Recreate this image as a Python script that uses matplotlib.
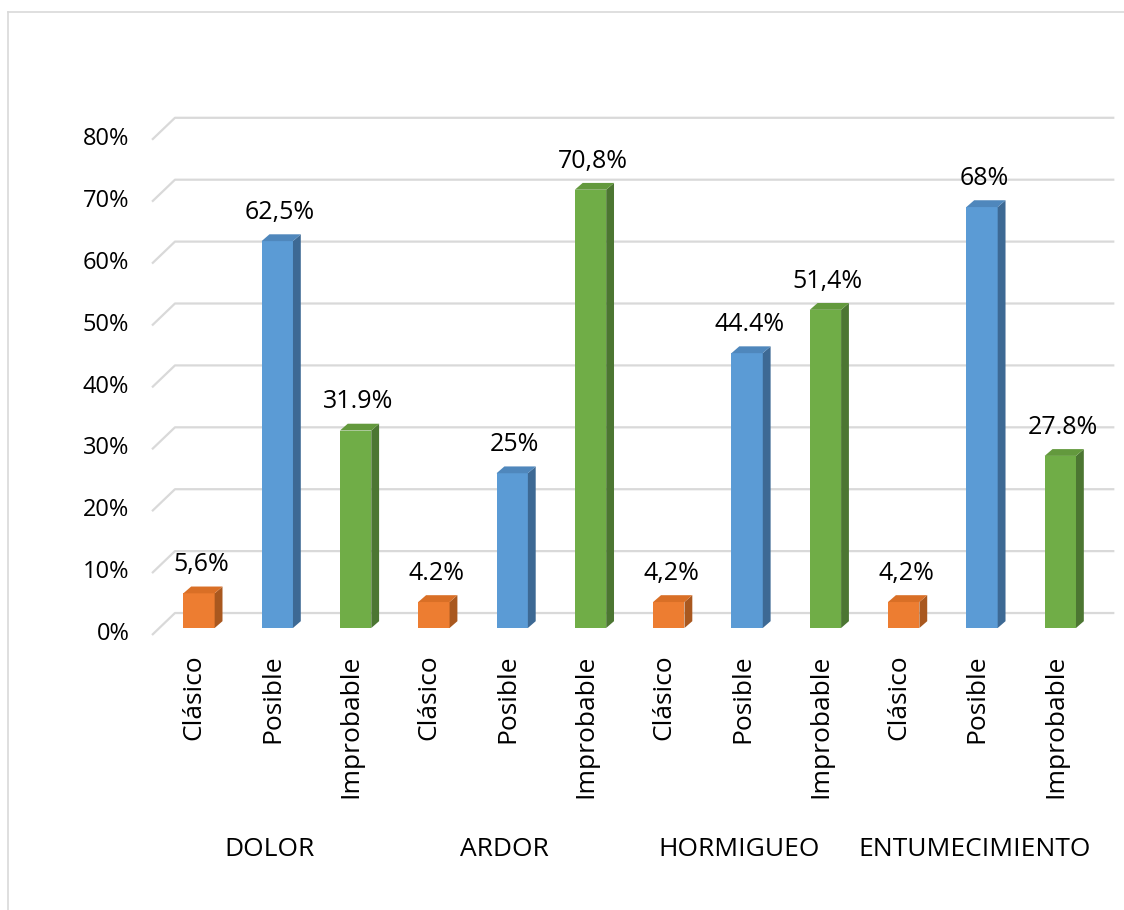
import numpy as np
import matplotlib.pyplot as plt
from matplotlib.patches import Polygon
from matplotlib.lines import Line2D

plt.rcParams['font.family'] = ['Open Sans', 'DejaVu Sans']

groups = ['DOLOR', 'ARDOR', 'HORMIGUEO', 'ENTUMECIMIENTO']
kinds = ['Clásico', 'Posible', 'Improbable']
values = [5.6, 62.5, 31.9, 4.2, 25, 70.8, 4.2, 44.4, 51.4, 4.2, 68, 27.8]
value_labels = ['5,6%', '62,5%', '31.9%', '4.2%', '25%', '70,8%',
                '4,2%', '44.4%', '51,4%', '4,2%', '68%', '27.8%']
yticks = [0, 10, 20, 30, 40, 50, 60, 70, 80]

# front / side / top shades per kind
front = {'Clásico': '#ED7D31', 'Posible': '#5B9BD5', 'Improbable': '#70AD47'}
side = {'Clásico': '#A9581F', 'Posible': '#3D6994', 'Improbable': '#4C7632'}
top = {'Clásico': '#D96F26', 'Posible': '#4F87BC', 'Improbable': '#63993D'}

fig = plt.figure(figsize=(11.24, 9.10), dpi=100)
W, H = 1124, 910
# axes placed in pixel terms: x 140..1120, y 90..645
ax = fig.add_axes([140 / W, 1 - 645 / H, 980 / W, 555 / H])
ax.set_xlim(-0.7535, 11.762)
ax.set_ylim(-2.746, 86.91)
ax.axis('off')

bw = 0.40     # bar width in slots
ddx = 0.10    # bar depth, x
ddy = 1.10    # bar depth, y (percent units)

# back-wall gridlines with the slanted floor edge on the left
for v in yticks:
    ax.add_line(Line2D([-0.60, -0.307, 11.69], [v - 1.13, v + 2.42, v + 2.42],
                       color='#D9D9D9', lw=1.6, zorder=1, solid_capstyle='butt'))
    ax.text(-0.89, v - 1.0, f'{v}%', ha='right', va='center',
            fontsize=17, color='#000000', clip_on=False)

kind_seq = [k for g in groups for k in kinds]
x = np.arange(len(values))
for xi, v, k, lab in zip(x, values, kind_seq, value_labels):
    ax.bar(xi, v, width=bw, color=front[k], zorder=3, linewidth=0)
    l, r = xi - bw / 2, xi + bw / 2
    ax.add_patch(Polygon([(r, 0), (r + ddx, ddy), (r + ddx, v + ddy), (r, v)],
                         closed=True, facecolor=side[k], lw=0, zorder=3))
    ax.add_patch(Polygon([(l, v), (l + ddx, v + ddy), (r + ddx, v + ddy), (r, v)],
                         closed=True, facecolor=top[k], lw=0, zorder=3))
    ax.text(xi + 0.03, v + ddy + 1.5, lab, ha='center', va='bottom',
            fontsize=18, color='#000000', zorder=4)
    ax.text(xi - 0.06, -4.3, k, rotation=90, ha='center', va='top',
            fontsize=19, color='#000000', clip_on=False)

for gi, g in enumerate(groups):
    ax.text(3 * gi + 1 - 0.1, -35.8, g, ha='center', va='center',
            fontsize=19, color='#000000', clip_on=False)

# chart frame
fig.add_artist(Line2D([8 / W, 8 / W], [0, 1 - 12 / H], transform=fig.transFigure,
                      color='#D9D9D9', lw=1.2))
fig.add_artist(Line2D([8 / W, 1], [1 - 12 / H, 1 - 12 / H], transform=fig.transFigure,
                      color='#D9D9D9', lw=1.2))

fig.savefig('out.png', dpi=100)
